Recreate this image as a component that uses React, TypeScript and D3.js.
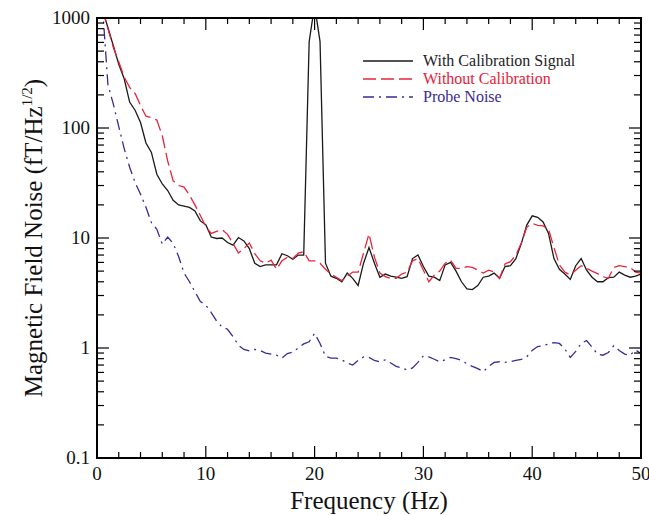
import React from "react";
import * as d3 from "d3";

const FREQ_STEP = 0.5;
const FREQ: number[] = d3.range(1, 101).map((i) => i * FREQ_STEP);

const WITH_CAL: number[] = [
  1200, 820, 560, 380, 280, 172, 145, 112, 73, 60,
  38, 31, 27, 22, 20, 19.5, 19, 17.6, 14.3, 13.2,
  10.2, 9.9, 10, 9.1, 8.6, 10.1, 9.4, 8.0, 5.9, 5.5,
  5.7, 5.7, 5.7, 7.2, 6.9, 6.4, 7.0, 7.0, 610, 1300,
  610, 5.9, 4.5, 4.3, 4.0, 4.8, 4.3, 3.7, 5.9, 8.2,
  5.9, 4.4, 4.7, 4.5, 4.4, 4.3, 4.45, 6.5, 7.0, 5.5,
  4.5, 4.4, 4.1, 5.7, 6.0, 5.0, 4.0, 3.45, 3.4, 3.7,
  4.4, 4.5, 4.8, 4.3, 5.5, 5.6, 6.5, 8.9, 13.1, 15.9,
  15.4, 14.0, 11.0, 6.5, 5.2, 4.7, 4.2, 5.6, 6.5, 5.1,
  4.4, 4.0, 4.0, 4.36, 4.4, 4.9, 4.6, 4.4, 4.5, 4.7,
];

const WITHOUT_CAL: number[] = [
  1200, 800, 540, 400, 290, 234, 206, 160, 128, 124,
  118, 85, 50, 33, 30, 29, 24.5, 20, 16, 12.7,
  11, 11.5, 11.9, 10.8, 8.9, 7.3, 8, 9.0, 7.2, 6.2,
  5.9, 6.3, 5.2, 6.2, 6.7, 6.5, 7.3, 7.5, 6.2, 6.2,
  5.9, 5.2, 4.7, 4.4, 4.1, 4.5, 4.9, 4.9, 7.3, 10.9,
  6.7, 4.8, 4.45, 4.3, 4.3, 4.7, 4.9, 6.2, 6.5, 5.1,
  4.0, 4.6, 5.0, 5.9, 6.3, 5.3, 5.3, 5.5, 5.4, 5.1,
  4.8, 5.1, 4.9, 4.3, 5.8, 6.1, 7.0, 9.0, 12.5, 13.6,
  13.0, 12.9, 12.0, 8.2, 5.7, 4.9, 4.6, 5.1, 5.6, 5.3,
  5.0, 4.75, 4.45, 4.3, 5.4, 5.6, 5.5, 5.4, 4.9, 4.8,
];

const PROBE_NOISE: number[] = [
  1300, 250, 165, 103, 65, 44, 32, 25, 19, 13.8,
  12.0, 8.8, 10.2, 8.9, 6.8, 4.8, 4.0, 3.25, 2.65, 2.45,
  2.1, 1.75, 1.55, 1.48, 1.27, 1.06, 0.97, 0.94, 0.97, 0.95,
  0.9, 0.88, 0.86, 0.81, 0.89, 0.92, 1.0, 1.09, 1.14, 1.36,
  1.1, 0.84, 0.81, 0.81, 0.78, 0.73, 0.7, 0.77, 0.83, 0.82,
  0.77, 0.75, 0.78, 0.73, 0.68, 0.66, 0.63, 0.66, 0.74, 0.85,
  0.83, 0.79, 0.75, 0.78, 0.82, 0.8, 0.77, 0.72, 0.68, 0.65,
  0.61, 0.68, 0.74, 0.75, 0.74, 0.75, 0.77, 0.79, 0.83, 0.95,
  1.03, 1.05, 1.09, 1.12, 1.1, 0.98, 0.82, 0.93, 1.1, 1.17,
  1.02, 0.88, 0.86, 0.91, 1.05, 0.95, 0.88, 0.86, 0.96, 0.89,
];

const X_MAJOR: number[] = [0, 10, 20, 30, 40, 50];
const Y_MAJOR: number[] = [0.1, 1, 10, 100, 1000];
const Y_LABELS: string[] = ["0.1", "1", "10", "100", "1000"];

const LEGEND_LABELS: string[] = ["With Calibration Signal", "Without Calibration", "Probe Noise"];

const W = 649;
const H = 515;
const M = { left: 97, right: 8, top: 18, bottom: 57 };
const FONT = "'Liberation Serif', 'Times New Roman', serif";

const COLORS = ["#1a1a1a", "#e8243c", "#3a2b94"];
const TEXT_COLORS = ["#222222", "#e8203a", "#3b2a8f"];
const DASHES = ["", "13,5", "11,5,2,5"];

export default function App() {
  const x = d3.scaleLinear().domain([0, 50]).range([M.left, W - M.right]);
  const y = d3.scaleLog().domain([0.1, 1000]).range([H - M.bottom, M.top]);
  const x0 = x(0), x1 = x(50), y0 = y(0.1), y1 = y(1000);

  const line = d3
    .line<[number, number]>()
    .x((d) => x(d[0]))
    .y((d) => y(d[1]));

  const series = [WITH_CAL, WITHOUT_CAL, PROBE_NOISE];

  const xMinor = d3.range(0, 51, 2).filter((v) => v % 10 !== 0);
  const yMinor: number[] = [];
  [0.1, 1, 10, 100].forEach((dec) => {
    for (let k = 2; k <= 9; k++) yMinor.push(dec * k);
  });

  const MAJ = 12;
  const MIN = 7;

  return (
    <svg
      width={W}
      height={H}
      style={{ position: "fixed", left: 0, top: 0, background: "#fff" }}
      fontFamily={FONT}
    >
      <defs>
        <clipPath id="plotclip">
          <rect x={x0} y={y1} width={x1 - x0} height={y0 - y1} />
        </clipPath>
      </defs>

      <g clipPath="url(#plotclip)">
        {series.map((vals, si) => (
          <path
            key={si}
            d={line(FREQ.map((f, i) => [f, vals[i]]) as [number, number][]) || ""}
            fill="none"
            stroke={COLORS[si]}
            strokeWidth={1.3}
            strokeDasharray={DASHES[si] || undefined}
          />
        ))}
      </g>

      <g stroke="#000" strokeWidth={1.2}>
        {X_MAJOR.map((v) => (
          <g key={"xm" + v}>
            <line x1={x(v)} x2={x(v)} y1={y0} y2={y0 - MAJ} />
            <line x1={x(v)} x2={x(v)} y1={y1} y2={y1 + MAJ} />
          </g>
        ))}
        {xMinor.map((v) => (
          <g key={"xn" + v}>
            <line x1={x(v)} x2={x(v)} y1={y0} y2={y0 - 6} />
            <line x1={x(v)} x2={x(v)} y1={y1} y2={y1 + 6} />
          </g>
        ))}
        {Y_MAJOR.map((v) => (
          <g key={"ym" + v}>
            <line x1={x0} x2={x0 + MAJ} y1={y(v)} y2={y(v)} />
            <line x1={x1} x2={x1 - MAJ} y1={y(v)} y2={y(v)} />
          </g>
        ))}
        {yMinor.map((v) => (
          <g key={"yn" + v}>
            <line x1={x0} x2={x0 + MIN} y1={y(v)} y2={y(v)} />
            <line x1={x1} x2={x1 - MIN} y1={y(v)} y2={y(v)} />
          </g>
        ))}
      </g>

      <rect x={x0} y={y1} width={x1 - x0} height={y0 - y1} fill="none" stroke="#000" strokeWidth={2} />

      <g fontSize={19} fill="#111">
        {X_MAJOR.map((v) => (
          <text key={"xl" + v} x={x(v)} y={y0 + 22} textAnchor="middle">
            {v}
          </text>
        ))}
        {Y_MAJOR.map((v, i) => (
          <text key={"yl" + v} x={x0 - 7} y={y(v) + 6} textAnchor="end">
            {Y_LABELS[i]}
          </text>
        ))}
      </g>

      <text x={(x0 + x1) / 2} y={H - 6} textAnchor="middle" fontSize={25} fill="#111">
        Frequency (Hz)
      </text>
      <text
        transform={`translate(${42},${(y0 + y1) / 2}) rotate(-90)`}
        textAnchor="middle"
        fontSize={25}
        fill="#111"
      >
        Magnetic Field Noise (fT/Hz
        <tspan fontSize={15} dy={-10}>1/2</tspan>
        <tspan dy={10}>)</tspan>
      </text>

      <g>
        {LEGEND_LABELS.map((lab, i) => {
          const ly = 61 + i * 18;
          return (
            <g key={lab}>
              <line
                x1={363}
                x2={413}
                y1={ly}
                y2={ly}
                stroke={COLORS[i]}
                strokeWidth={1.3}
                strokeDasharray={DASHES[i] || undefined}
              />
              <text x={423} y={ly + 5} fontSize={16} fill={TEXT_COLORS[i]}>
                {lab}
              </text>
            </g>
          );
        })}
      </g>
    </svg>
  );
}
